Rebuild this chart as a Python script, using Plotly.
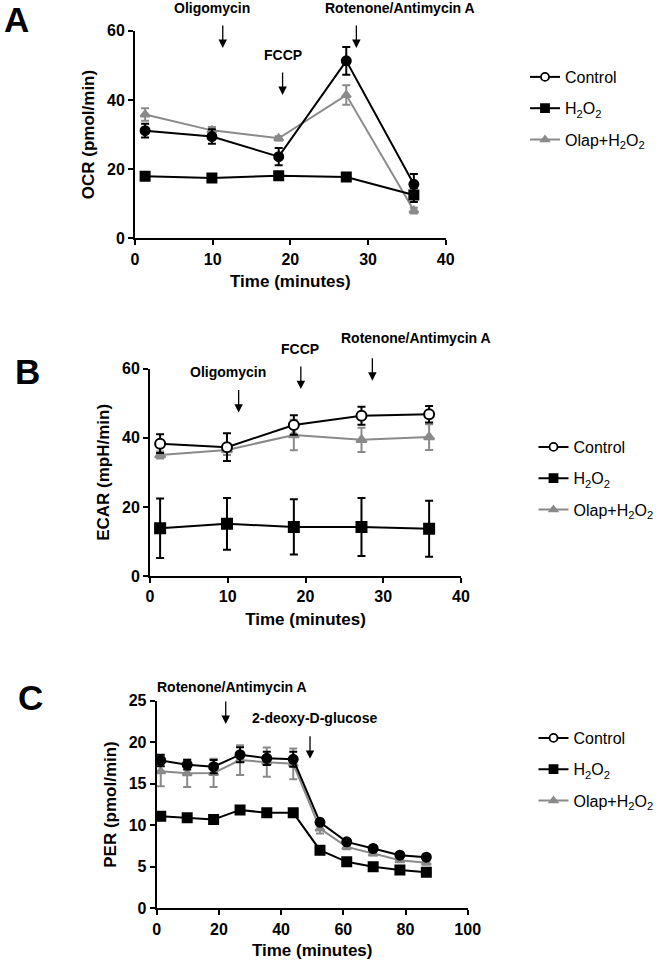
import plotly.graph_objects as go

W, H = 661, 960
OFF = 0  # page body margin is removed in the html (see post_script)

# ---------------- data ----------------
groups = ["Control", "H<sub>2</sub>O<sub>2</sub>", "Olap+H<sub>2</sub>O<sub>2</sub>"]

# Panel A: OCR
time_a = [1.3, 9.9, 18.5, 27.2, 35.9]
ocr_control = [31.1, 29.4, 23.6, 51.3, 15.6]
ocr_control_err = [2.0, 2.1, 2.5, 4.0, 3.0]
ocr_h2o2 = [17.9, 17.4, 18.1, 17.7, 12.5]
ocr_h2o2_err = [0.6, 0.6, 0.6, 0.8, 2.0]
ocr_olap = [35.8, 31.2, 28.9, 41.4, 8.0]
ocr_olap_err = [1.8, 1.0, 0.6, 2.8, 0.8]

# Panel B: ECAR
time_b = [1.3, 9.9, 18.5, 27.2, 35.9]
ecar_control = [38.3, 37.3, 43.7, 46.4, 46.8]
ecar_control_err = [2.7, 4.0, 2.8, 2.6, 2.4]
ecar_h2o2 = [13.8, 15.1, 14.2, 14.2, 13.7]
ecar_h2o2_err = [8.6, 7.5, 8.0, 8.4, 8.1]
ecar_olap = [35.0, 36.5, 40.8, 39.4, 40.2]
ecar_olap_err = [1.0, 1.5, 4.4, 3.5, 3.7]

# Panel C: PER
time_c = [1.3, 9.8, 18.3, 26.8, 35.4, 43.9, 52.5, 61.1, 69.6, 78.2, 86.7]
per_control = [17.8, 17.3, 17.05, 18.5, 18.06, 17.94, 10.35, 8.0, 7.2, 6.4, 6.15]
per_control_err = [0.7, 0.6, 0.8, 0.9, 0.8, 0.9, 0.3, 0.2, 0.2, 0.2, 0.2]
per_h2o2 = [11.1, 10.9, 10.7, 11.85, 11.5, 11.5, 7.0, 5.6, 5.0, 4.6, 4.35]
per_h2o2_err = [0.2, 0.2, 0.2, 0.2, 0.2, 0.2, 0.2, 0.2, 0.2, 0.2, 0.2]
per_olap = [16.5, 16.25, 16.3, 17.85, 17.6, 17.4, 9.6, 7.4, 6.6, 5.8, 5.5]
per_olap_err = [1.8, 1.65, 1.7, 1.8, 1.75, 1.85, 0.6, 0.3, 0.2, 0.2, 0.2]

# injection labels (text, text x, text y, arrow x, arrow head y) in data units
inj_a = [("Oligomycin", 9.9, 66.6, 11.3, 55.0),
         ("FCCP", 19.1, 53.0, 19.0, 41.4),
         ("Rotenone/Antimycin A", 34.1, 66.7, 28.5, 55.0)]
inj_b = [("Oligomycin", 10.0, 59.1, 11.4, 47.3),
         ("FCCP", 19.3, 65.7, 19.4, 54.1),
         ("Rotenone/Antimycin A", 34.2, 68.9, 28.6, 56.5)]
inj_c = [("Rotenone/Antimycin A", 24.2, 26.7, 22.2, 22.2),
         ("2-deoxy-D-glucose", 50.6, 22.9, 49.3, 18.0)]

# ---------------- layout helpers (page pixel -> paper) ----------------
def px_x(p):
    return (p - OFF) / W

def px_y(p):
    return 1 - (p - OFF) / H

FONT = "Liberation Sans, Arial, sans-serif"
GRAY = "#8a8a8a"

fig = go.Figure()

panels = [
    ("x", "y", "legend", time_a,
     [(ocr_control, ocr_control_err), (ocr_h2o2, ocr_h2o2_err), (ocr_olap, ocr_olap_err)], 9, True),
    ("x2", "y2", "legend2", time_b,
     [(ecar_control, ecar_control_err), (ecar_h2o2, ecar_h2o2_err), (ecar_olap, ecar_olap_err)], 10, False),
    ("x3", "y3", "legend3", time_c,
     [(per_control, per_control_err), (per_h2o2, per_h2o2_err), (per_olap, per_olap_err)], 9, True),
]

colors = ["black", "black", GRAY]
symbols = ["circle", "square", "triangle-up"]

for xa, ya, lg, t, series, msize, ctrl_filled in panels:
    for idx in [2, 1, 0]:
        vals, err = series[idx]
        fill = colors[idx]
        if idx == 0 and not ctrl_filled:
            fill = "white"
        ms = msize if idx != 2 else msize - 1
        fig.add_trace(go.Scatter(
            x=t, y=vals, xaxis=xa, yaxis=ya,
            mode="lines+markers",
            line=dict(color=colors[idx], width=2),
            marker=dict(symbol=symbols[idx], size=ms, color=fill,
                        line=dict(color=colors[idx], width=2)),
            error_y=dict(type="data", array=err, visible=True, color=colors[idx],
                         thickness=2, width=4),
            showlegend=False, cliponaxis=False,
        ))
    for idx in range(3):
        fig.add_trace(go.Scatter(
            x=[None], y=[None], xaxis=xa, yaxis=ya,
            mode="lines+markers", name=groups[idx], legend=lg,
            legendgroup=lg + str(idx),
            line=dict(color=colors[idx], width=2),
            marker=dict(symbol=symbols[idx], size=8 if idx != 2 else 7,
                        color=colors[idx] if idx != 0 else "white",
                        line=dict(color=colors[idx], width=1.8)),
        ))

axis_common = dict(
    showline=True, linecolor="black", linewidth=2,
    ticks="outside", ticklen=5, tickwidth=2, tickcolor="black",
    showgrid=False, zeroline=False,
    tickfont=dict(family=FONT, size=16, color="black", weight="bold"),
    automargin=False,
)

def xaxis(domain, rng, dtick, anchor):
    return dict(axis_common, domain=domain, range=rng, dtick=dtick, tick0=0, anchor=anchor,
                title=dict(text="Time (minutes)", standoff=9,
                           font=dict(family=FONT, size=17, color="black", weight="bold")))

def yaxis(domain, rng, dtick, anchor, title):
    return dict(axis_common, domain=domain, range=rng, dtick=dtick, tick0=0, anchor=anchor,
                title=dict(text=title, standoff=8,
                           font=dict(family=FONT, size=17, color="black", weight="bold")))

yranges = {"y": 60, "y2": 60, "y3": 25}

layout = dict(
    width=W, height=H,
    margin=dict(l=0, r=0, t=0, b=0),
    paper_bgcolor="white", plot_bgcolor="white",
    font=dict(family=FONT, color="black"),
    xaxis=xaxis([px_x(135), px_x(445.7)], [0, 40], 10, "y"),
    yaxis=yaxis([px_y(238.3), px_y(30.7)], [0, yranges["y"]], 20, "x", "OCR (pmol/min)"),
    xaxis2=xaxis([px_x(150), px_x(461)], [0, 40], 10, "y2"),
    yaxis2=yaxis([px_y(576), px_y(368.7)], [0, yranges["y2"]], 20, "x2", "ECAR (mpH/min)"),
    xaxis3=xaxis([px_x(156.7), px_x(467.7)], [0, 100], 20, "y3"),
    yaxis3=yaxis([px_y(908.3), px_y(700.7)], [0, yranges["y3"]], 5, "x3", "PER (pmol/min)"),
)

leg_common = dict(font=dict(family=FONT, size=16, color="black"), bgcolor="rgba(0,0,0,0)",
                  itemwidth=30, tracegroupgap=7.5, xanchor="left", yanchor="top",
                  itemclick=False, itemdoubleclick=False)
layout["legend"] = dict(leg_common, x=px_x(525), y=px_y(60))
layout["legend2"] = dict(leg_common, x=px_x(533.5), y=px_y(430))
layout["legend3"] = dict(leg_common, x=px_x(533.5), y=px_y(721))

annotations = []
for inj, xr, yr in [(inj_a, "x", "y"), (inj_b, "x2", "y2"), (inj_c, "x3", "y3")]:
    ymax = yranges[yr]
    for txt, tx, ty, axx, ahy in inj:
        annotations.append(dict(text=txt, x=tx, y=ty / ymax, xref=xr, yref=yr + " domain",
                                showarrow=False,
                                font=dict(family=FONT, size=14, color="black", weight="bold"),
                                xanchor="center", yanchor="middle"))
        annotations.append(dict(text="", x=axx, y=ahy / ymax, xref=xr, yref=yr + " domain",
                                showarrow=True, ax=0, ay=-24, arrowhead=2, arrowsize=1.3,
                                arrowwidth=1.3, arrowcolor="black"))

for letter, cx, cy in [("A", 16.7, 19.2), ("B", 27.5, 371), ("C", 30, 697)]:
    annotations.append(dict(text=letter, x=px_x(cx), y=px_y(cy), xref="paper", yref="paper",
                            showarrow=False, xanchor="center", yanchor="middle",
                            font=dict(family=FONT, size=35, color="black", weight="bold")))

layout["annotations"] = annotations
fig.update_layout(**layout)

fig.write_html("out.html",
               config={"displayModeBar": False},
               post_script="document.body.style.margin='0px';document.body.style.overflow='hidden';")
